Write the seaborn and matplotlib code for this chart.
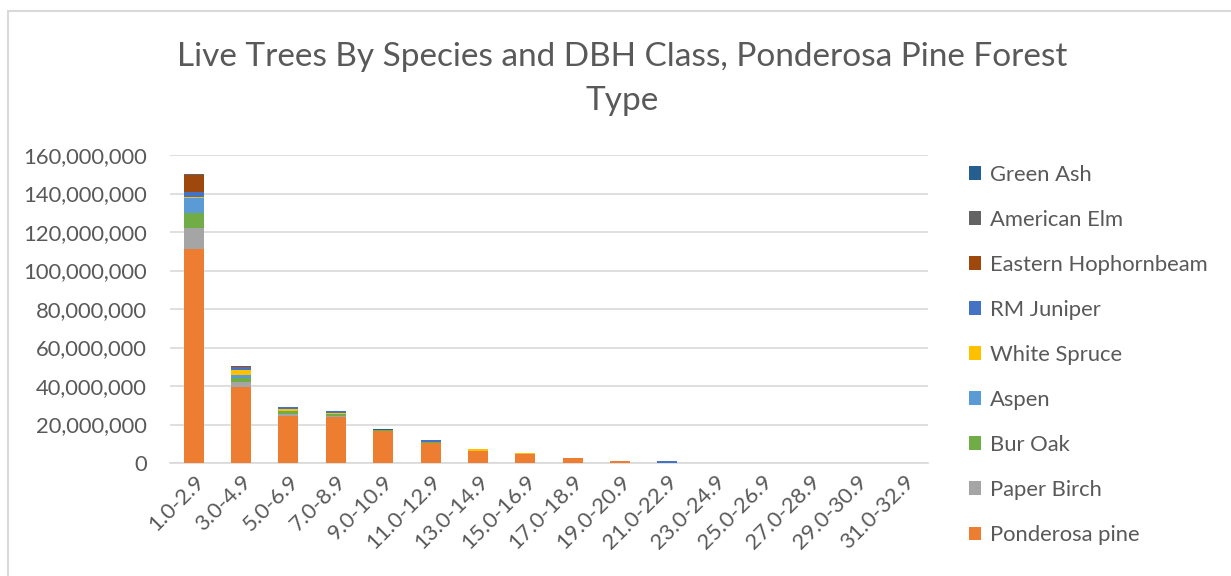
import numpy as np
import pandas as pd
import matplotlib
matplotlib.use("Agg")
import matplotlib.pyplot as plt
from matplotlib.patches import Patch, Rectangle
from matplotlib.ticker import FuncFormatter
import seaborn as sns

# DBH classes (inches)
categories = ["1.0-2.9", "3.0-4.9", "5.0-6.9", "7.0-8.9", "9.0-10.9", "11.0-12.9",
              "13.0-14.9", "15.0-16.9", "17.0-18.9", "19.0-20.9", "21.0-22.9",
              "23.0-24.9", "25.0-26.9", "27.0-28.9", "29.0-30.9", "31.0-32.9"]

# live trees, millions
ponderosa_pine = [111.0, 39.6, 24.4, 23.7, 16.5, 10.2, 6.2, 4.5, 2.5, 1.0, 0, 0, 0, 0, 0, 0]
paper_birch = [11.1, 2.6, 0.9, 0.9, 0, 0, 0, 0, 0, 0, 0, 0, 0, 0, 0, 0]
bur_oak = [7.6, 2.1, 1.9, 0.8, 0.6, 0.8, 0, 0, 0, 0, 0, 0, 0, 0, 0, 0]
aspen = [7.8, 1.2, 0, 0, 0, 0, 0, 0, 0, 0, 0, 0, 0, 0, 0, 0]
white_spruce = [0.5, 2.8, 0.7, 0.5, 0, 0, 0.9, 0.7, 0, 0, 0, 0, 0, 0, 0, 0]
rm_juniper = [2.8, 1.5, 1.2, 1.0, 0, 0.8, 0, 0, 0, 0, 1.0, 0, 0, 0, 0, 0]
eastern_hophornbeam = [8.7, 0.6, 0, 0, 0, 0, 0, 0, 0, 0, 0, 0, 0, 0, 0, 0]
american_elm = [0.5, 0, 0, 0, 0, 0, 0, 0, 0, 0, 0, 0, 0, 0, 0, 0]
green_ash = [0.2, 0.2, 0, 0, 0.5, 0, 0, 0, 0, 0, 0, 0, 0, 0, 0, 0]

# bottom to top of each stack
species = ["Ponderosa pine", "Paper Birch", "Bur Oak", "Aspen", "White Spruce",
           "RM Juniper", "Eastern Hophornbeam", "American Elm", "Green Ash"]
series = [ponderosa_pine, paper_birch, bur_oak, aspen, white_spruce,
          rm_juniper, eastern_hophornbeam, american_elm, green_ash]
colors = ["#ED7D31", "#A5A5A5", "#70AD47", "#5B9BD5", "#FFC000",
          "#4472C4", "#9E480E", "#636363", "#255E91"]

df = pd.DataFrame({name: np.array(vals) * 1e6 for name, vals in zip(species, series)})
df["DBH"] = categories
cum = df[species].cumsum(axis=1)

sns.set_style("white")
plt.rcParams["font.family"] = ["Lato", "DejaVu Sans"]
text_color = "#595959"

fig = plt.figure(figsize=(12.31, 5.76), dpi=100)
W, H = 1231, 576
ax = fig.add_axes([170 / W, 113 / H, 758 / W, 308 / H])

# draw cumulative totals, tallest first, so each layer shows its own segment
for name, color in reversed(list(zip(species, colors))):
    sns.barplot(x=df["DBH"], y=cum[name], color=color, width=0.42,
                saturation=1, linewidth=0, edgecolor="none", ax=ax, zorder=3)

ax.set_ylim(0, 160e6)
ax.set_yticks(np.arange(0, 160e6 + 1, 20e6))
ax.yaxis.set_major_formatter(FuncFormatter(lambda v, p: f"{v:,.0f}"))
ax.set_xlim(-0.5, len(categories) - 0.5)
ax.grid(axis="y", color="#D9D9D9", linewidth=1.2, zorder=0)
ax.set_axisbelow(True)
for s in ["top", "right", "left"]:
    ax.spines[s].set_visible(False)
ax.spines["bottom"].set_color("#D9D9D9")
ax.spines["bottom"].set_linewidth(1.2)
ax.set_xlabel("")
ax.set_ylabel("")
ax.tick_params(axis="both", length=0, colors=text_color, labelsize=15.8)
ax.tick_params(axis="y", pad=16.5)
ax.tick_params(axis="x", pad=6)
plt.setp(ax.get_xticklabels(), rotation=45, ha="right", rotation_mode="anchor")

fig.text(622 / W, 1 - 42 / H,
         "Live Trees By Species and DBH Class, Ponderosa Pine Forest\nType",
         ha="center", va="top", fontsize=24, color=text_color, linespacing=1.58)

handles = [Patch(facecolor=c, edgecolor="none", label=n)
           for n, c in zip(species, colors)][::-1]
fig.legend(handles=handles, loc="upper left", bbox_to_anchor=(949 / W, 1 - 145 / H),
           frameon=False, fontsize=15.8, labelcolor=text_color,
           handlelength=0.55, handleheight=0.55, handletextpad=0.4, labelspacing=1.14)

# outer chart border
fig.patches.append(Rectangle((8 / W, -0.1), 1.2, 1 - 11 / H + 0.1,
                             transform=fig.transFigure, fill=False,
                             edgecolor="#D9D9D9", linewidth=1.5))

fig.savefig("out.png", dpi=100)
